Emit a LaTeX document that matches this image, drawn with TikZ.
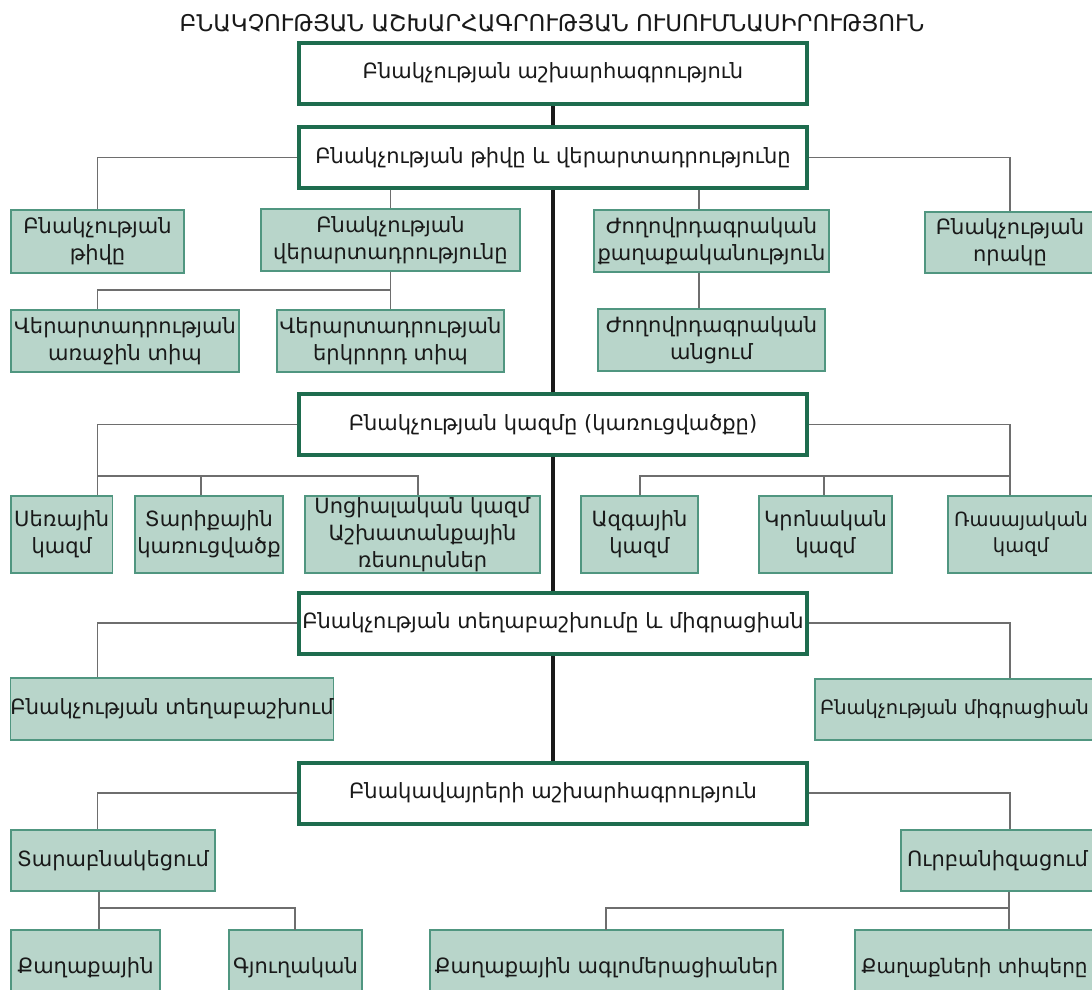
\documentclass[tikz,border=0pt]{standalone}
\usepackage{fontspec}
\setmainfont{DejaVu Sans}
\definecolor{fillc}{RGB}{184,213,202}
\definecolor{subc}{RGB}{80,150,128}
\definecolor{mainc}{RGB}{30,108,78}
\definecolor{linkc}{RGB}{110,110,110}
\definecolor{txtc}{RGB}{25,25,25}
\newcommand{\boxfont}{\fontsize{21}{27}\selectfont}
\newcommand{\smallbox}{\fontsize{19.5}{26}\selectfont}
\tikzset{
  main/.style={draw=mainc, line width=4pt, fill=white, minimum width=508pt, minimum height=61pt, inner sep=0pt, font=\boxfont, text=txtc},
  leaf/.style 2 args={draw=subc, line width=1.2pt, fill=fillc, inner sep=0pt, align=center, font=\boxfont, text=txtc, minimum width=#1, minimum height=#2},
  link/.style={draw=linkc, line width=1.5pt},
  spine/.style={draw=black!90, line width=4.5pt},
}
\begin{document}
\begin{tikzpicture}[x=1pt,y=-1pt]
\useasboundingbox (0,0) rectangle (1092,989);
\clip (0,0) rectangle (1092,989);
\fill[white] (0,0) rectangle (1092,989);
% title
\node[font=\fontsize{23}{27}\selectfont, text=txtc] (title) at (552,23) {ԲՆԱԿՉՈՒԹՅԱՆ ԱՇԽԱՐՀԱԳՐՈՒԹՅԱՆ ՈՒՍՈՒՄՆԱՍԻՐՈՒԹՅՈՒՆ};
% connector x positions
\coordinate (L) at (97.5,0);
\coordinate (R) at (1010,0);
\coordinate (K) at (699,0);
% main boxes (positions)
\path (553,73) coordinate (p1) (553,157.5) coordinate (p2) (553,424.5) coordinate (p3) (553,623) coordinate (p4) (553,793) coordinate (p5);
% spine drawn first
\draw[spine] (p1) -- (p5);
\node[main] (m1) at (p1) {Բնակչության աշխարհագրություն};
\node[main] (m2) at (p2) {Բնակչության թիվը և վերարտադրությունը};
\node[main] (m3) at (p3) {Բնակչության կազմը (կառուցվածքը)};
\node[main] (m4) at (p4) {Բնակչության տեղաբաշխումը և միգրացիան};
\node[main] (m5) at (p5) {Բնակավայրերի աշխարհագրություն};
% level under m2
\node[leaf={173pt}{63pt}] (a1) at (97.5,241.5) {Բնակչության\\թիվը};
\node[leaf={259pt}{62pt}] (a2) at (390.5,240) {Բնակչության\\վերարտադրությունը};
\node[leaf={228pt}{62pt}] (a3) at (125,341) {Վերարտադրության\\առաջին տիպ};
\node[leaf={227pt}{62pt}] (a4) at (390.5,341) {Վերարտադրության\\երկրորդ տիպ};
\node[leaf={235pt}{62pt}] (a5) at (711.5,241) {Ժողովրդագրական\\քաղաքականություն};
\node[leaf={227pt}{62pt}] (a6) at (711.5,340) {Ժողովրդագրական\\անցում};
\node[leaf={170pt}{61pt}] (a7) at (1010,242.5) {Բնակչության\\որակը};
\coordinate (j1) at (97.5,290);
\draw[link] (m2.west) -| (a1.north);
\draw[link] (m2.east) -| (R |- a7.north);
\draw[link] (a2.north) -- (a2.north |- m2.south);
\draw[link] (a2.south) |- (j1) -- (j1 |- a3.north);
\draw[link] (a4.north) -- (a4.north |- j1);
\draw[link] (K |- m2.south) -- (K |- a5.north);
\draw[link] (K |- a5.south) -- (K |- a6.north);
% level under m3
\node[leaf={101.5pt}{77pt}] (b1) at (61.75,534.5) {Սեռային\\կազմ};
\node[leaf={148pt}{77pt}] (b2) at (209,534.5) {Տարիքային\\կառուցվածք};
\node[leaf={235pt}{77pt}] (b3) at (422.5,534.5) {Սոցիալական կազմ\\Աշխատանքային\\ռեսուրսներ};
\node[leaf={117pt}{77pt}] (b4) at (639.5,534.5) {Ազգային\\կազմ};
\node[leaf={133pt}{77pt}] (b5) at (825.5,534.5) {Կրոնական\\կազմ};
\node[leaf={146pt}{77pt}, font=\smallbox] (b6) at (1021,534.5) {Ռասայական\\կազմ};
\coordinate (j2) at (418,476);
\coordinate (j3) at (640,476);
\draw[link] (m3.west) -| (L |- b1.north);
\draw[link] (L |- j2) -- (j2) -- (j2 |- b3.north);
\draw[link] (201,476) coordinate (j2b) -- (j2b |- b2.north);
\draw[link] (m3.east) -| (R |- b6.north);
\draw[link] (R |- j3) -- (j3) -- (j3 |- b4.north);
\draw[link] (824,476) coordinate (j3b) -- (j3b |- b5.north);
% level under m4
\node[leaf={322pt}{62pt}] (c1) at (172,709) {Բնակչության տեղաբաշխում};
\node[leaf={279pt}{61pt}, font=\smallbox] (c2) at (954.5,709.5) {Բնակչության միգրացիան};
\draw[link] (m4.west) -| (L |- c1.north);
\draw[link] (m4.east) -| (R |- c2.north);
% level under m5
\node[leaf={204pt}{61pt}] (d1) at (113,860.5) {Տարաբնակեցում};
\node[leaf={193pt}{61pt}] (d2) at (997.5,860.5) {Ուրբանիզացում};
\node[leaf={149pt}{76pt}] (e1) at (85.5,968) {Քաղաքային};
\node[leaf={133pt}{76pt}] (e2) at (295.5,968) {Գյուղական};
\node[leaf={353pt}{76pt}] (e3) at (606.5,968) {Քաղաքային ագլոմերացիաներ};
\node[leaf={239pt}{76pt}, font=\fontsize{20}{26}\selectfont] (e4) at (974.5,968) {Քաղաքների տիպերը};
\draw[link] (m5.west) -| (L |- d1.north);
\draw[link] (m5.east) -| (R |- d2.north);
\coordinate (j4) at (99,908);
\coordinate (j5) at (1009,908);
\draw[link] (j4 |- d1.south) -- (j4 |- e1.north);
\draw[link] (j4) -| (295,930) coordinate (e2t);
\draw[link] (j5 |- d2.south) -- (j5 |- e4.north);
\draw[link] (j5) -| (606,930) coordinate (e3t);
\end{tikzpicture}
\end{document}
